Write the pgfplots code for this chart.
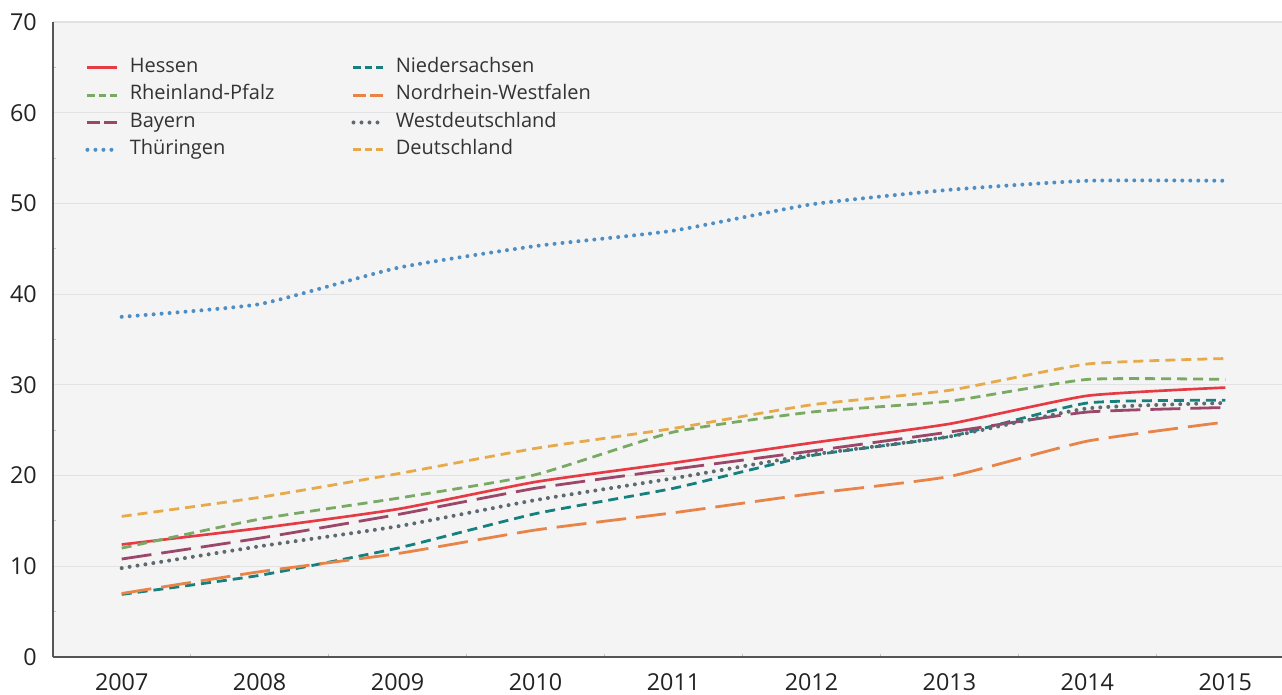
\documentclass[border=0pt]{standalone}
\usepackage{fontspec}
\setmainfont{Open Sans}
\usepackage{pgfplots}
\usepackage{pgfplotstable}
\pgfplotsset{compat=1.18}
\definecolor{cHe}{HTML}{E63A45}
\definecolor{cRP}{HTML}{78AA63}
\definecolor{cBy}{HTML}{9B476A}
\definecolor{cTh}{HTML}{4D8EC4}
\definecolor{cNi}{HTML}{16807E}
\definecolor{cNW}{HTML}{E98448}
\definecolor{cWD}{HTML}{5E6970}
\definecolor{cDE}{HTML}{E6AA4A}
\definecolor{bgc}{HTML}{F4F4F4}
\definecolor{gridc}{HTML}{E2E2E2}
\definecolor{axc}{HTML}{555555}
\definecolor{labc}{HTML}{222222}
\definecolor{legc}{HTML}{333333}

\pgfplotstableread{
year He   Ni   RP   NW   By   WD   Th   DE
2007 12.4 6.9  12.0 7.0  10.8 9.8  37.5 15.5
2008 14.2 9.0  15.2 9.4  13.1 12.2 38.9 17.6
2009 16.3 12.0 17.5 11.4 15.7 14.4 42.9 20.2
2010 19.3 15.8 20.1 14.0 18.6 17.3 45.3 23.0
2011 21.4 18.6 24.8 15.9 20.7 19.7 47.0 25.2
2012 23.6 22.2 27.0 18.0 22.7 22.3 49.9 27.8
2013 25.7 24.3 28.2 19.9 24.8 24.3 51.5 29.4
2014 28.8 28.0 30.6 23.8 27.0 27.4 52.5 32.3
2015 29.7 28.3 30.6 25.9 27.5 28.0 52.5 32.9
}\data

\pgfplotsset{
  shortdash/.style={line width=2.1pt, dash pattern=on 7.5pt off 4.5pt,
    legend image post style={dash pattern=on 5.5pt off 2.8pt}},
  longdash/.style={line width=2.1pt, dash pattern=on 22.5pt off 7.5pt,
    legend image post style={dash pattern=on 9.5pt off 3pt}},
  dotline/.style={line width=3pt, line cap=round, dash pattern=on 0pt off 6pt},
}

\begin{document}
\begin{tikzpicture}
\begin{axis}[
  scale only axis,
  width=921.75pt, height=476.25pt,
  xmin=2006.502, xmax=2015.41,
  ymin=0, ymax=70,
  axis background/.style={fill=bgc},
  axis x line=bottom, axis y line=left,
  axis line style={-, draw=axc, line width=1.3pt},
  xtick={2007,...,2015},
  ytick={0,10,...,70},
  minor xtick={2007.5,2008.5,2009.5,2010.5,2011.5,2012.5,2013.5,2014.5},
  minor ytick={5,15,25,35,45,55,65},
  major tick length=0pt,
  minor tick length=2.5pt,
  tick align=inside,
  minor tick style={draw=gridc!85!black, line width=0.75pt},
  ymajorgrids,
  major grid style={draw=gridc, line width=0.9pt},
  /pgf/number format/.cd, 1000 sep={}, assume math mode=true,
  /pgfplots/.cd,
  tick label style={font=\fontsize{17.5}{20}\selectfont, text=labc},
  xticklabel style={inner sep=0pt, anchor=north, yshift=-12.5pt},
  yticklabel style={inner sep=0pt, anchor=east, xshift=-12pt},
  legend columns=2,
  legend cell align=left,
  legend style={draw=none, fill=none,
    at={(axis description cs:0.0262,0.944)}, anchor=north west,
    inner sep=0pt, font=\fontsize{15}{18}\selectfont, text=legc,
    row sep=5.5pt,
    nodes={inner sep=0pt, text height=11pt, text depth=4pt},
    /tikz/every odd column/.append style={column sep=8.25pt},
    /tikz/every even column/.append style={column sep=57.75pt}},
  legend image code/.code={\draw[#1] (0pt,0pt) -- (22pt,0pt);},
  every axis plot/.append style={smooth, tension=0.3},
]
\addplot[cHe, line width=2pt] table[x=year,y=He]{\data};
\addlegendentry{Hessen}
\addplot[cNi, shortdash] table[x=year,y=Ni]{\data};
\addlegendentry{Niedersachsen}
\addplot[cRP, shortdash] table[x=year,y=RP]{\data};
\addlegendentry{Rheinland-Pfalz}
\addplot[cNW, longdash] table[x=year,y=NW]{\data};
\addlegendentry{Nordrhein-Westfalen}
\addplot[cBy, longdash] table[x=year,y=By]{\data};
\addlegendentry{Bayern}
\addplot[cWD, dotline] table[x=year,y=WD]{\data};
\addlegendentry{Westdeutschland}
\addplot[cTh, dotline] table[x=year,y=Th]{\data};
\addlegendentry{Thüringen}
\addplot[cDE, shortdash] table[x=year,y=DE]{\data};
\addlegendentry{Deutschland}
\end{axis}
\pgfresetboundingbox
\path ([shift={(-39.75pt,-28.5pt)}]current axis.south west) rectangle ([shift={(0pt,16.5pt)}]current axis.north east);
\end{tikzpicture}
\end{document}
